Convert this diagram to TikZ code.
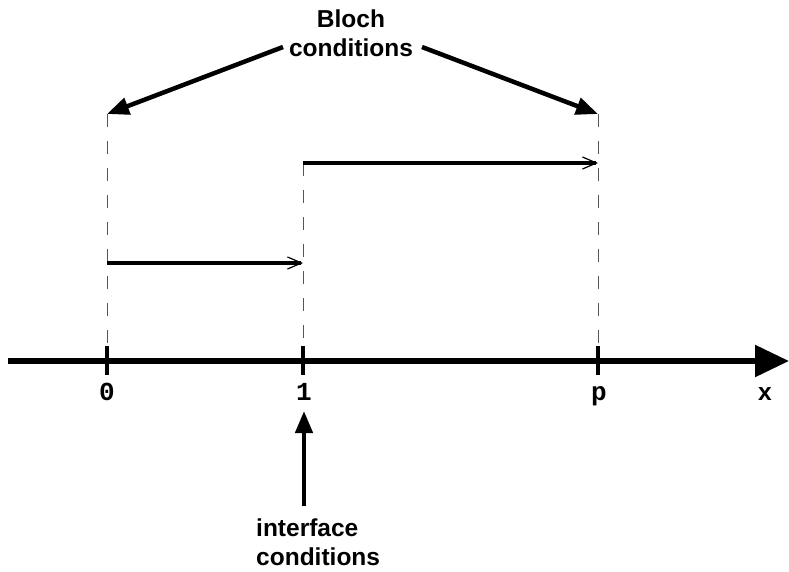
\documentclass[tikz,border=0pt]{standalone}
\usepackage{fontspec}
\setsansfont{Liberation Sans}
\setmonofont{Liberation Mono}
\usetikzlibrary{arrows.meta, positioning, calc}
\definecolor{inkblack}{HTML}{000000}
\definecolor{guidegray}{HTML}{555555}

\tikzset{
  lbl/.style={font=\sffamily\bfseries\fontsize{24.5}{28.5}\selectfont, inner sep=3pt},
  ticklbl/.style={font=\ttfamily\bfseries\fontsize{26}{30}\selectfont, inner sep=0pt, anchor=base},
  guide/.style={guidegray, line width=1pt, dash pattern=on 13pt off 14pt},
  bigarrow/.style={-{Triangle[length=22pt,width=17pt]}, line width=4.5pt, inkblack},
  flowarrow/.style={-{Straight Barb[length=14pt,width=12pt,line width=1.2pt]}, line width=3.5pt, inkblack}
}

\begin{document}
\begin{tikzpicture}[x=1pt, y=-1pt]
  \useasboundingbox (0,0) rectangle (789,572);

  % Points on the axis
  \coordinate (o0) at (107,361);
  \coordinate (o1) at (303,361);
  \coordinate (op) at (598,361);
  \coordinate (axL) at (8,361);
  \coordinate (axR) at (789,361);

  % Tops of the guide lines
  \coordinate (t0) at (107,114);
  \coordinate (tp) at (598,114);
  \coordinate (t1) at (303,163);
  \coordinate (u1) at (598,163);
  \coordinate (a0) at (107,263);
  \coordinate (a1) at (303,263);

  % Dashed guides
  \draw[guide] (t0) -- ($(o0)+(0,-14)$);
  \draw[guide] (t1) -- ($(o1)+(0,-14)$);
  \draw[guide] (tp) -- ($(op)+(0,-14)$);

  % x axis
  \draw[-{Triangle[length=34pt,width=31pt]}, line width=5.5pt] (axL) -- (axR);
  \foreach \p in {o0,o1,op}
    \draw[line width=4pt] ($(\p)+(0,-15)$) -- ($(\p)+(0,14)$);
  \node[ticklbl] (l0) at (107,400) {0};
  \node[ticklbl] (l1) at (304,400) {1};
  \node[ticklbl] (lp) at (599,400) {p};
  \node[lbl, inner sep=0pt, anchor=base] (lx) at (765,400) {x};

  % Sub-interval arrows
  \draw[flowarrow] (a0) -- (a1);
  \draw[flowarrow] (t1) -- (u1);

  % Bloch conditions
  \node[lbl, align=center] (bloch) at (351,33) {Bloch\\conditions};
  \coordinate (cL) at (283,47);
  \coordinate (cR) at (422,47);
  \draw[bigarrow] (cL) -- (t0);
  \draw[bigarrow] (cR) -- (tp);

  % Interface conditions
  \node[lbl, align=left, anchor=west] (iface) at (253,542) {interface\\conditions};
  \coordinate (i0) at (304,506);
  \coordinate (i1) at (304,411);
  \draw[bigarrow] (i0) -- (i1);
\end{tikzpicture}
\end{document}
